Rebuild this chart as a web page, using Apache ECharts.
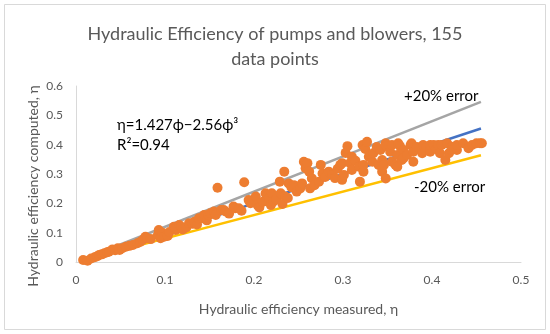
<!DOCTYPE html>
<html>
<head>
<meta charset="utf-8">
<script src="https://cdn.jsdelivr.net/npm/echarts@6/dist/echarts.min.js"></script>
<style>html,body{margin:0;padding:0;background:#fff}#c{width:550px;height:334px}</style>
</head>
<body>
<div id="c"></div>
<script>
// Measured hydraulic efficiency (x) and computed (y)
var measuredX = [0.008,0.013,0.017,0.021,0.024,0.026,0.029,0.032,0.035,0.037,0.041,0.044,0.047,0.049,0.052,0.056,0.060,0.064,0.069,0.072,
0.075,0.078,0.080,0.084,0.092,0.093,0.095,0.097,0.099,0.103,0.105,0.110,0.112,0.112,0.116,0.118,0.120,0.124,0.127,0.131,
0.133,0.136,0.138,0.142,0.144,0.147,0.149,0.151,0.155,0.157,0.159,0.163,0.166,0.168,0.172,0.177,0.179,0.183,0.186,0.189,
0.194,0.196,0.202,0.204,0.206,0.210,0.213,0.217,0.219,0.220,0.222,0.225,0.229,0.230,0.232,0.234,0.235,0.238,0.239,0.242,
0.245,0.248,0.252,0.254,0.256,0.258,0.260,0.262,0.263,0.265,0.268,0.273,0.275,0.277,0.280,0.284,0.288,0.291,0.294,0.297,
0.299,0.299,0.301,0.305,0.303,0.308,0.310,0.310,0.314,0.318,0.319,0.322,0.323,0.323,0.325,0.327,0.329,0.331,0.333,0.334,
0.338,0.340,0.342,0.344,0.344,0.346,0.348,0.348,0.349,0.353,0.355,0.355,0.359,0.361,0.361,0.362,0.364,0.366,0.368,0.368,
0.372,0.376,0.377,0.379,0.379,0.383,0.389,0.390,0.394,0.398,0.398,0.402,0.405,0.407,0.409,0.411,0.415,0.417,0.419,0.422,
0.422,0.428,0.428,0.435,0.441,0.445,0.450,0.454,0.456];
var computedY = [0.007,0.004,0.012,0.016,0.020,0.024,0.026,0.030,0.033,0.035,0.043,0.040,0.047,0.041,0.047,0.052,0.055,0.058,0.064,0.068,
0.075,0.086,0.081,0.078,0.092,0.109,0.081,0.100,0.086,0.089,0.102,0.120,0.109,0.115,0.126,0.120,0.111,0.118,0.132,0.130,
0.137,0.128,0.149,0.149,0.160,0.142,0.160,0.166,0.172,0.160,0.253,0.177,0.177,0.172,0.165,0.189,0.183,0.183,0.175,0.272,
0.211,0.200,0.223,0.194,0.186,0.205,0.234,0.217,0.194,0.234,0.206,0.213,0.274,0.234,0.198,0.308,0.223,0.218,0.268,0.255,
0.262,0.240,0.251,0.268,0.342,0.320,0.337,0.308,0.251,0.285,0.262,0.274,0.331,0.302,0.290,0.308,0.297,0.286,0.318,0.331,
0.337,0.280,0.297,0.395,0.372,0.337,0.359,0.314,0.345,0.325,0.274,0.399,0.308,0.331,0.385,0.410,0.359,0.365,0.342,0.371,
0.392,0.331,0.382,0.308,0.348,0.331,0.405,0.285,0.395,0.376,0.399,0.342,0.331,0.365,0.325,0.405,0.395,0.348,0.382,0.354,
0.365,0.399,0.405,0.376,0.342,0.392,0.371,0.399,0.393,0.376,0.399,0.399,0.385,0.399,0.371,0.399,0.348,0.405,0.371,0.393,
0.382,0.382,0.399,0.405,0.388,0.399,0.405,0.405,0.405];
// Reference lines (end points)
var refX = [0.01, 0.455];
var plus20Y = [0.012, 0.546];
var equalY = [0.01, 0.455];
var minus20Y = [0.008, 0.364];
var xTicks = [0, 0.1, 0.2, 0.3, 0.4, 0.5];
var yTicks = [0, 0.1, 0.2, 0.3, 0.4, 0.5, 0.6];

function pairs(xs, ys){ return xs.map(function(x,i){ return [x, ys[i]]; }); }

var FONT = 'Lato';
var chart = echarts.init(document.getElementById('c'), null, {renderer:'canvas'});
chart.setOption({
  animation: false,
  backgroundColor: '#fff',
  title: {
    text: 'Hydraulic Efficiency of pumps and blowers, 155\ndata points',
    left: 'center', top: 17,
    textStyle: {fontFamily: FONT, fontSize: 18, fontWeight: 'normal', color: '#595959', lineHeight: 25}
  },
  grid: {left: 76, right: 29, top: 86, bottom: 72},
  xAxis: {
    type: 'value', min: xTicks[0], max: xTicks[xTicks.length-1], interval: 0.1,
    name: 'Hydraulic efficiency measured, η', nameLocation: 'middle', nameGap: 40,
    nameTextStyle: {fontFamily: FONT, fontSize: 14, color: '#595959'},
    axisLine: {show: true, lineStyle: {color: '#d9d9d9', width: 1}},
    axisTick: {show: false}, splitLine: {show: false},
    axisLabel: {fontFamily: FONT, fontSize: 12, color: '#595959', margin: 12}
  },
  yAxis: {
    type: 'value', min: yTicks[0], max: yTicks[yTicks.length-1], interval: 0.1,
    axisLine: {show: true, lineStyle: {color: '#d9d9d9', width: 1}},
    axisTick: {show: false}, splitLine: {show: false},
    axisLabel: {fontFamily: FONT, fontSize: 12, color: '#595959', margin: 13}
  },
  series: [
    {type: 'line', data: pairs(refX, plus20Y), symbol: 'none', lineStyle: {color: '#A5A5A5', width: 2.5}, z: 2},
    {type: 'line', data: pairs(refX, equalY), symbol: 'none', lineStyle: {color: '#4472C4', width: 2.5}, z: 2},
    {type: 'line', data: pairs(refX, minus20Y), symbol: 'none', lineStyle: {color: '#FFC000', width: 2.5}, z: 2},
    {type: 'scatter', data: pairs(measuredX, computedY), symbolSize: 10, itemStyle: {color: '#ED7D31', opacity: 1}, z: 3}
  ],
  graphic: [
    {type: 'rect', shape: {x: 4.5, y: 4.5, width: 541, height: 325}, style: {fill: 'none', stroke: '#d9d9d9', lineWidth: 1}, z: -1},
    {type: 'text', x: 33, y: 186, rotation: Math.PI/2,
     style: {text: 'Hydraulic efficiency computed, η', fontFamily: FONT, fontSize: 14, fill: '#595959', textAlign: 'center', textVerticalAlign: 'middle'}},
    {type: 'text', x: 117, y: 125, style: {text: 'η=1.427ϕ−2.56ϕ³', fontFamily: FONT, fontSize: 15, fill: '#000', textAlign: 'left', textVerticalAlign: 'middle'}},
    {type: 'text', x: 117, y: 145, style: {text: 'R²=0.94', fontFamily: FONT, fontSize: 15, fill: '#000', textAlign: 'left', textVerticalAlign: 'middle'}},
    {type: 'text', x: 404, y: 96, style: {text: '+20% error', fontFamily: FONT, fontSize: 15, fill: '#000', textAlign: 'left', textVerticalAlign: 'middle'}},
    {type: 'text', x: 414, y: 187, style: {text: '-20% error', fontFamily: FONT, fontSize: 15, fill: '#000', textAlign: 'left', textVerticalAlign: 'middle'}}
  ]
});
</script>
</body>
</html>
